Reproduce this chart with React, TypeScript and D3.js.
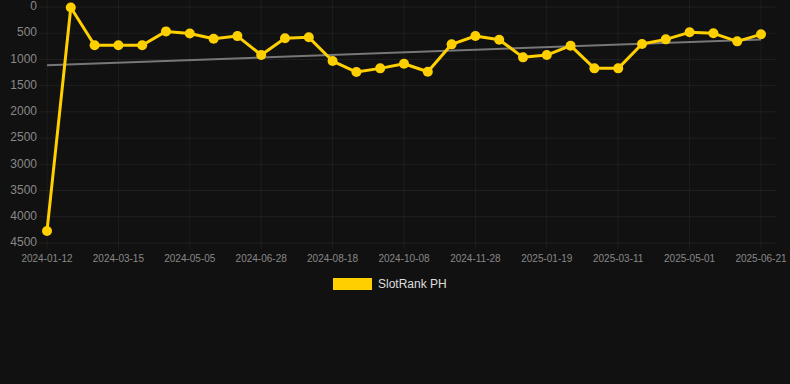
import React from 'react';
import * as d3 from 'd3';

const dates = [
  '2024-01-12', '2024-02-02', '2024-02-23', '2024-03-15', '2024-04-01', '2024-04-18',
  '2024-05-05', '2024-05-23', '2024-06-10', '2024-06-28', '2024-07-15', '2024-08-01',
  '2024-08-18', '2024-09-04', '2024-09-21', '2024-10-08', '2024-10-25', '2024-11-11',
  '2024-11-28', '2024-12-15', '2025-01-01', '2025-01-19', '2025-02-05', '2025-02-22',
  '2025-03-11', '2025-03-28', '2025-04-14', '2025-05-01', '2025-05-18', '2025-06-04',
  '2025-06-21',
];

const ranks = [
  4270, 10, 730, 730, 730, 465, 505, 605, 555, 915, 595, 578,
  1030, 1240, 1170, 1082, 1235, 712, 553, 624, 960, 916, 738, 1170,
  1170, 706, 617, 483, 502, 655, 521,
];

const yTicks = [0, 500, 1000, 1500, 2000, 2500, 3000, 3500, 4000, 4500];

const W = 790;
const H = 384;
const plot = { left: 47, right: 761, top: 7, bottom: 243 };
const gold = '#FFD000';
const font = '"Liberation Sans", Arial, sans-serif';

export default function App() {
  const x = d3.scalePoint<string>().domain(dates).range([plot.left, plot.right]);
  const y = d3.scaleLinear().domain([0, 4500]).range([plot.top, plot.bottom]);

  const xTicks = dates.filter((_, i) => i % 3 === 0);

  // least-squares trend over the category index
  const n = ranks.length;
  const idx = d3.range(n);
  const mx = d3.mean(idx)!;
  const my = d3.mean(ranks)!;
  const slope =
    d3.sum(idx, i => (i - mx) * (ranks[i] - my)) / d3.sum(idx, i => (i - mx) ** 2);
  const icpt = my - slope * mx;
  const trend = [0, n - 1].map(i => ({ d: dates[i], v: icpt + slope * i }));

  const line = d3.line<number>()
    .x((_, i) => x(dates[i])!)
    .y(v => y(v));

  return (
    <div style={{ position: 'fixed', left: 0, top: 0 }}>
      <svg width={W} height={H} style={{ display: 'block', background: '#111111' }}>
        <g>
          {yTicks.map(t => (
            <line key={'h' + t} x1={plot.left - 8} x2={W - 14} y1={y(t)} y2={y(t)}
              stroke="rgba(255,255,255,0.06)" strokeWidth={1} />
          ))}
          {xTicks.map(d => (
            <line key={'v' + d} x1={x(d)} x2={x(d)} y1={0} y2={plot.bottom + 6}
              stroke="rgba(255,255,255,0.05)" strokeWidth={1} />
          ))}
        </g>
        <g fontFamily={font} fontSize={12} fill="#888888">
          {yTicks.map(t => (
            <text key={'yt' + t} x={37} y={y(t)} textAnchor="end" dominantBaseline="middle">
              {t}
            </text>
          ))}
        </g>
        <g fontFamily={font} fontSize={10} fill="#888888">
          {xTicks.map(d => (
            <text key={'xt' + d} x={x(d)} y={259} textAnchor="middle" dominantBaseline="middle">
              {d}
            </text>
          ))}
        </g>
        <line x1={x(trend[0].d)} x2={x(trend[1].d)} y1={y(trend[0].v)} y2={y(trend[1].v)}
          stroke="#777777" strokeWidth={2} />
        <path d={line(ranks) || ''} fill="none" stroke={gold} strokeWidth={3}
          strokeLinejoin="round" />
        {ranks.map((v, i) => (
          <circle key={i} cx={x(dates[i])} cy={y(v)} r={5} fill={gold} />
        ))}
        <rect x={333} y={278} width={39} height={12} fill={gold} />
        <text x={378} y={285} fontFamily={font} fontSize={12} fill="#dddddd"
          dominantBaseline="middle">SlotRank PH</text>
      </svg>
    </div>
  );
}
